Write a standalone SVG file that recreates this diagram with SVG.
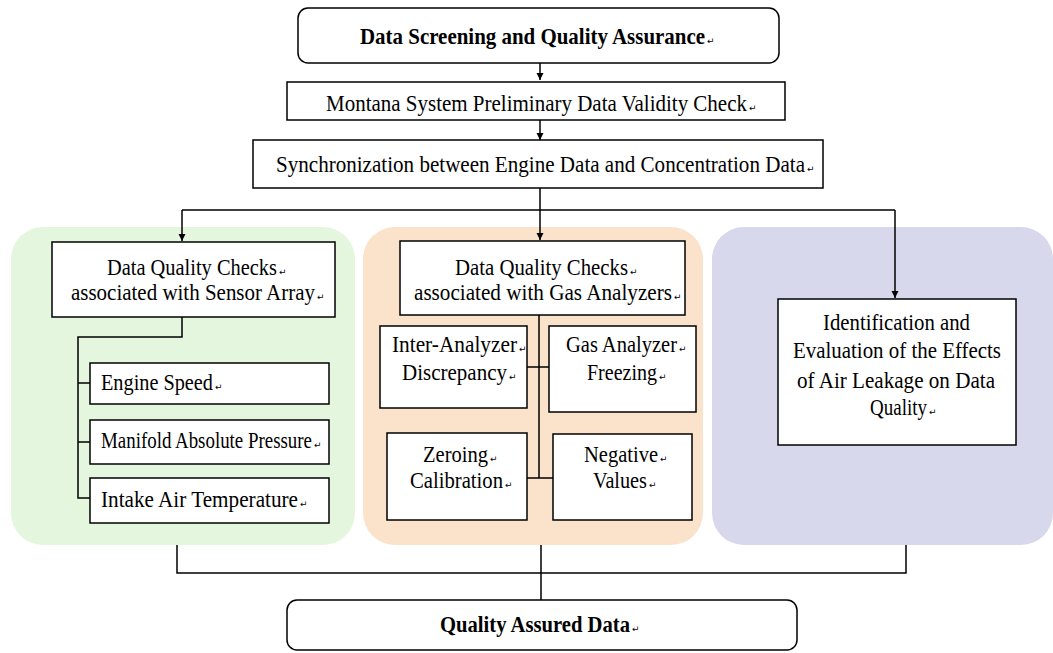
<svg xmlns="http://www.w3.org/2000/svg" width="1053" height="653" viewBox="0 0 1053 653">
<style>
.box{fill:#fff;stroke:#000;stroke-width:1.5}
.ln{fill:none;stroke:#000;stroke-width:1.5}
.t{font-family:"Liberation Serif","Times New Roman",Tinos,serif;font-size:20.5px;fill:#000}
.b{font-weight:bold}
.m{font-family:"DejaVu Sans",sans-serif;font-size:9px;fill:#000}
</style>
<defs>
<marker id="ah" markerWidth="8" markerHeight="8" refX="7" refY="4" orient="auto" markerUnits="userSpaceOnUse">
<path d="M0,0.5 L7,4 L0,7.5 Z" fill="#000"/>
</marker>
</defs>
<rect width="1053" height="653" fill="#fff"/>
<g id="panels">
<rect id="panel-green" x="11" y="227" width="344" height="318" rx="32" fill="#e4f7de"/>
<rect id="panel-orange" x="363" y="227" width="340" height="318" rx="32" fill="#fbe2ca"/>
<rect id="panel-purple" x="712" y="227" width="341" height="318" rx="32" fill="#d7d8ec"/>
</g>
<g id="connectors">
<path class="ln" d="M540,63 V80" marker-end="url(#ah)"/>
<path class="ln" d="M540,120 V140" marker-end="url(#ah)"/>
<path class="ln" d="M540,188 V210 M182,210 H895"/>
<path class="ln" d="M182,210 V241" marker-end="url(#ah)"/>
<path class="ln" d="M540,210 V240" marker-end="url(#ah)"/>
<path class="ln" d="M895,210 V298" marker-end="url(#ah)"/>
<path class="ln" d="M182,317 V337 H78 V498 H90 M78,383 H90 M78,442 H90"/>
<path class="ln" d="M539,315 V478 M527,367 H549 M527,478 H553"/>
<path class="ln" d="M177,545 V573 H906 V545 M541,545 V600"/>
</g>
<g id="n-start">
<rect class="box" x="298" y="8" width="481" height="55" rx="10"/>
<text class="t b" transform="matrix(1,0,0,1.146,0,44)" x="360" y="0" textLength="345" lengthAdjust="spacingAndGlyphs">Data Screening and Quality Assurance</text>
<text class="m" x="707" y="44">↵</text>
</g>
<g id="n-montana">
<rect class="box" x="287" y="82" width="498" height="38"/>
<text class="t" transform="matrix(1,0,0,1.146,0,111)" x="326" y="0" textLength="421" lengthAdjust="spacingAndGlyphs">Montana System Preliminary Data Validity Check</text>
<text class="m" x="749" y="111">↵</text>
</g>
<g id="n-sync">
<rect class="box" x="253" y="140" width="570" height="48"/>
<text class="t" transform="matrix(1,0,0,1.146,0,172)" x="276" y="0" textLength="529" lengthAdjust="spacingAndGlyphs">Synchronization between Engine Data and Concentration Data</text>
<text class="m" x="807" y="172">↵</text>
</g>
<g id="n-sensor">
<rect class="box" x="52" y="242" width="283" height="75"/>
<text class="t" style="font-size:20px" transform="matrix(1,0,0,1.175,0,275)" x="107" y="0" textLength="170" lengthAdjust="spacingAndGlyphs">Data Quality Checks</text>
<text class="m" x="279" y="275">↵</text>
<text class="t" transform="matrix(1,0,0,1.146,0,300)" x="71" y="0" textLength="244" lengthAdjust="spacingAndGlyphs">associated with Sensor Array</text>
<text class="m" x="317" y="300">↵</text>
</g>
<g id="n-engine">
<rect class="box" x="90" y="363" width="239" height="41"/>
<text class="t" style="font-size:20px" transform="matrix(1,0,0,1.175,0,390)" x="101" y="0" textLength="112" lengthAdjust="spacingAndGlyphs">Engine Speed</text>
<text class="m" x="215" y="390">↵</text>
</g>
<g id="n-manifold">
<rect class="box" x="90" y="420" width="239" height="44"/>
<text class="t" style="font-size:18.6px" transform="matrix(1,0,0,1.263,0,448)" x="101" y="0" textLength="211" lengthAdjust="spacingAndGlyphs">Manifold Absolute Pressure</text>
<text class="m" x="314" y="448">↵</text>
</g>
<g id="n-intake">
<rect class="box" x="90" y="478" width="239" height="45"/>
<text class="t" transform="matrix(1,0,0,1.146,0,507)" x="101" y="0" textLength="197" lengthAdjust="spacingAndGlyphs">Intake Air Temperature</text>
<text class="m" x="300" y="507">↵</text>
</g>
<g id="n-gas">
<rect class="box" x="400" y="241" width="285" height="74"/>
<text class="t" style="font-size:20px" transform="matrix(1,0,0,1.175,0,275)" x="455" y="0" textLength="173" lengthAdjust="spacingAndGlyphs">Data Quality Checks</text>
<text class="m" x="630" y="275">↵</text>
<text class="t" transform="matrix(1,0,0,1.146,0,300)" x="414" y="0" textLength="258" lengthAdjust="spacingAndGlyphs">associated with Gas Analyzers</text>
<text class="m" x="674" y="300">↵</text>
</g>
<g id="n-inter">
<rect class="box" x="380" y="326" width="147" height="82"/>
<text class="t" transform="matrix(1,0,0,1.146,0,352)" x="392" y="0" textLength="125" lengthAdjust="spacingAndGlyphs">Inter-Analyzer</text>
<text class="m" x="519" y="352">↵</text>
<text class="t" transform="matrix(1,0,0,1.146,0,380)" x="402" y="0" textLength="105" lengthAdjust="spacingAndGlyphs">Discrepancy</text>
<text class="m" x="509" y="380">↵</text>
</g>
<g id="n-freeze">
<rect class="box" x="549" y="326" width="147" height="86"/>
<text class="t" style="font-size:20px" transform="matrix(1,0,0,1.175,0,352)" x="566" y="0" textLength="111" lengthAdjust="spacingAndGlyphs">Gas Analyzer</text>
<text class="m" x="679" y="352">↵</text>
<text class="t" style="font-size:19.8px" transform="matrix(1,0,0,1.187,0,380)" x="587" y="0" textLength="70" lengthAdjust="spacingAndGlyphs">Freezing</text>
<text class="m" x="659" y="380">↵</text>
</g>
<g id="n-zero">
<rect class="box" x="387" y="433" width="140" height="87"/>
<text class="t" style="font-size:20.3px" transform="matrix(1,0,0,1.158,0,462)" x="423" y="0" textLength="65" lengthAdjust="spacingAndGlyphs">Zeroing</text>
<text class="m" x="490" y="462">↵</text>
<text class="t" transform="matrix(1,0,0,1.146,0,488)" x="410" y="0" textLength="93" lengthAdjust="spacingAndGlyphs">Calibration</text>
<text class="m" x="505" y="488">↵</text>
</g>
<g id="n-neg">
<rect class="box" x="553" y="434" width="139" height="86"/>
<text class="t" style="font-size:20.3px" transform="matrix(1,0,0,1.158,0,462)" x="584" y="0" textLength="74" lengthAdjust="spacingAndGlyphs">Negative</text>
<text class="m" x="660" y="462">↵</text>
<text class="t" style="font-size:19.2px" transform="matrix(1,0,0,1.224,0,488)" x="593" y="0" textLength="54" lengthAdjust="spacingAndGlyphs">Values</text>
<text class="m" x="649" y="488">↵</text>
</g>
<g id="n-leak">
<rect class="box" x="778" y="299" width="238" height="146"/>
<text class="t" transform="matrix(1,0,0,1.146,0,330)" x="823" y="0" textLength="147" lengthAdjust="spacingAndGlyphs">Identification and</text>
<text class="t" transform="matrix(1,0,0,1.146,0,358)" x="793" y="0" textLength="208" lengthAdjust="spacingAndGlyphs">Evaluation of the Effects</text>
<text class="t" transform="matrix(1,0,0,1.146,0,388)" x="797" y="0" textLength="198" lengthAdjust="spacingAndGlyphs">of Air Leakage on Data</text>
<text class="t" style="font-size:18.8px" transform="matrix(1,0,0,1.25,0,415)" x="870" y="0" textLength="57" lengthAdjust="spacingAndGlyphs">Quality</text>
<text class="m" x="929" y="415">↵</text>
</g>
<g id="n-end">
<rect class="box" x="287" y="600" width="510" height="50" rx="10"/>
<text class="t b" style="font-size:20.3px" transform="matrix(1,0,0,1.158,0,632)" x="440" y="0" textLength="190" lengthAdjust="spacingAndGlyphs">Quality Assured Data</text>
<text class="m" x="632" y="632">↵</text>
</g>
</svg>
